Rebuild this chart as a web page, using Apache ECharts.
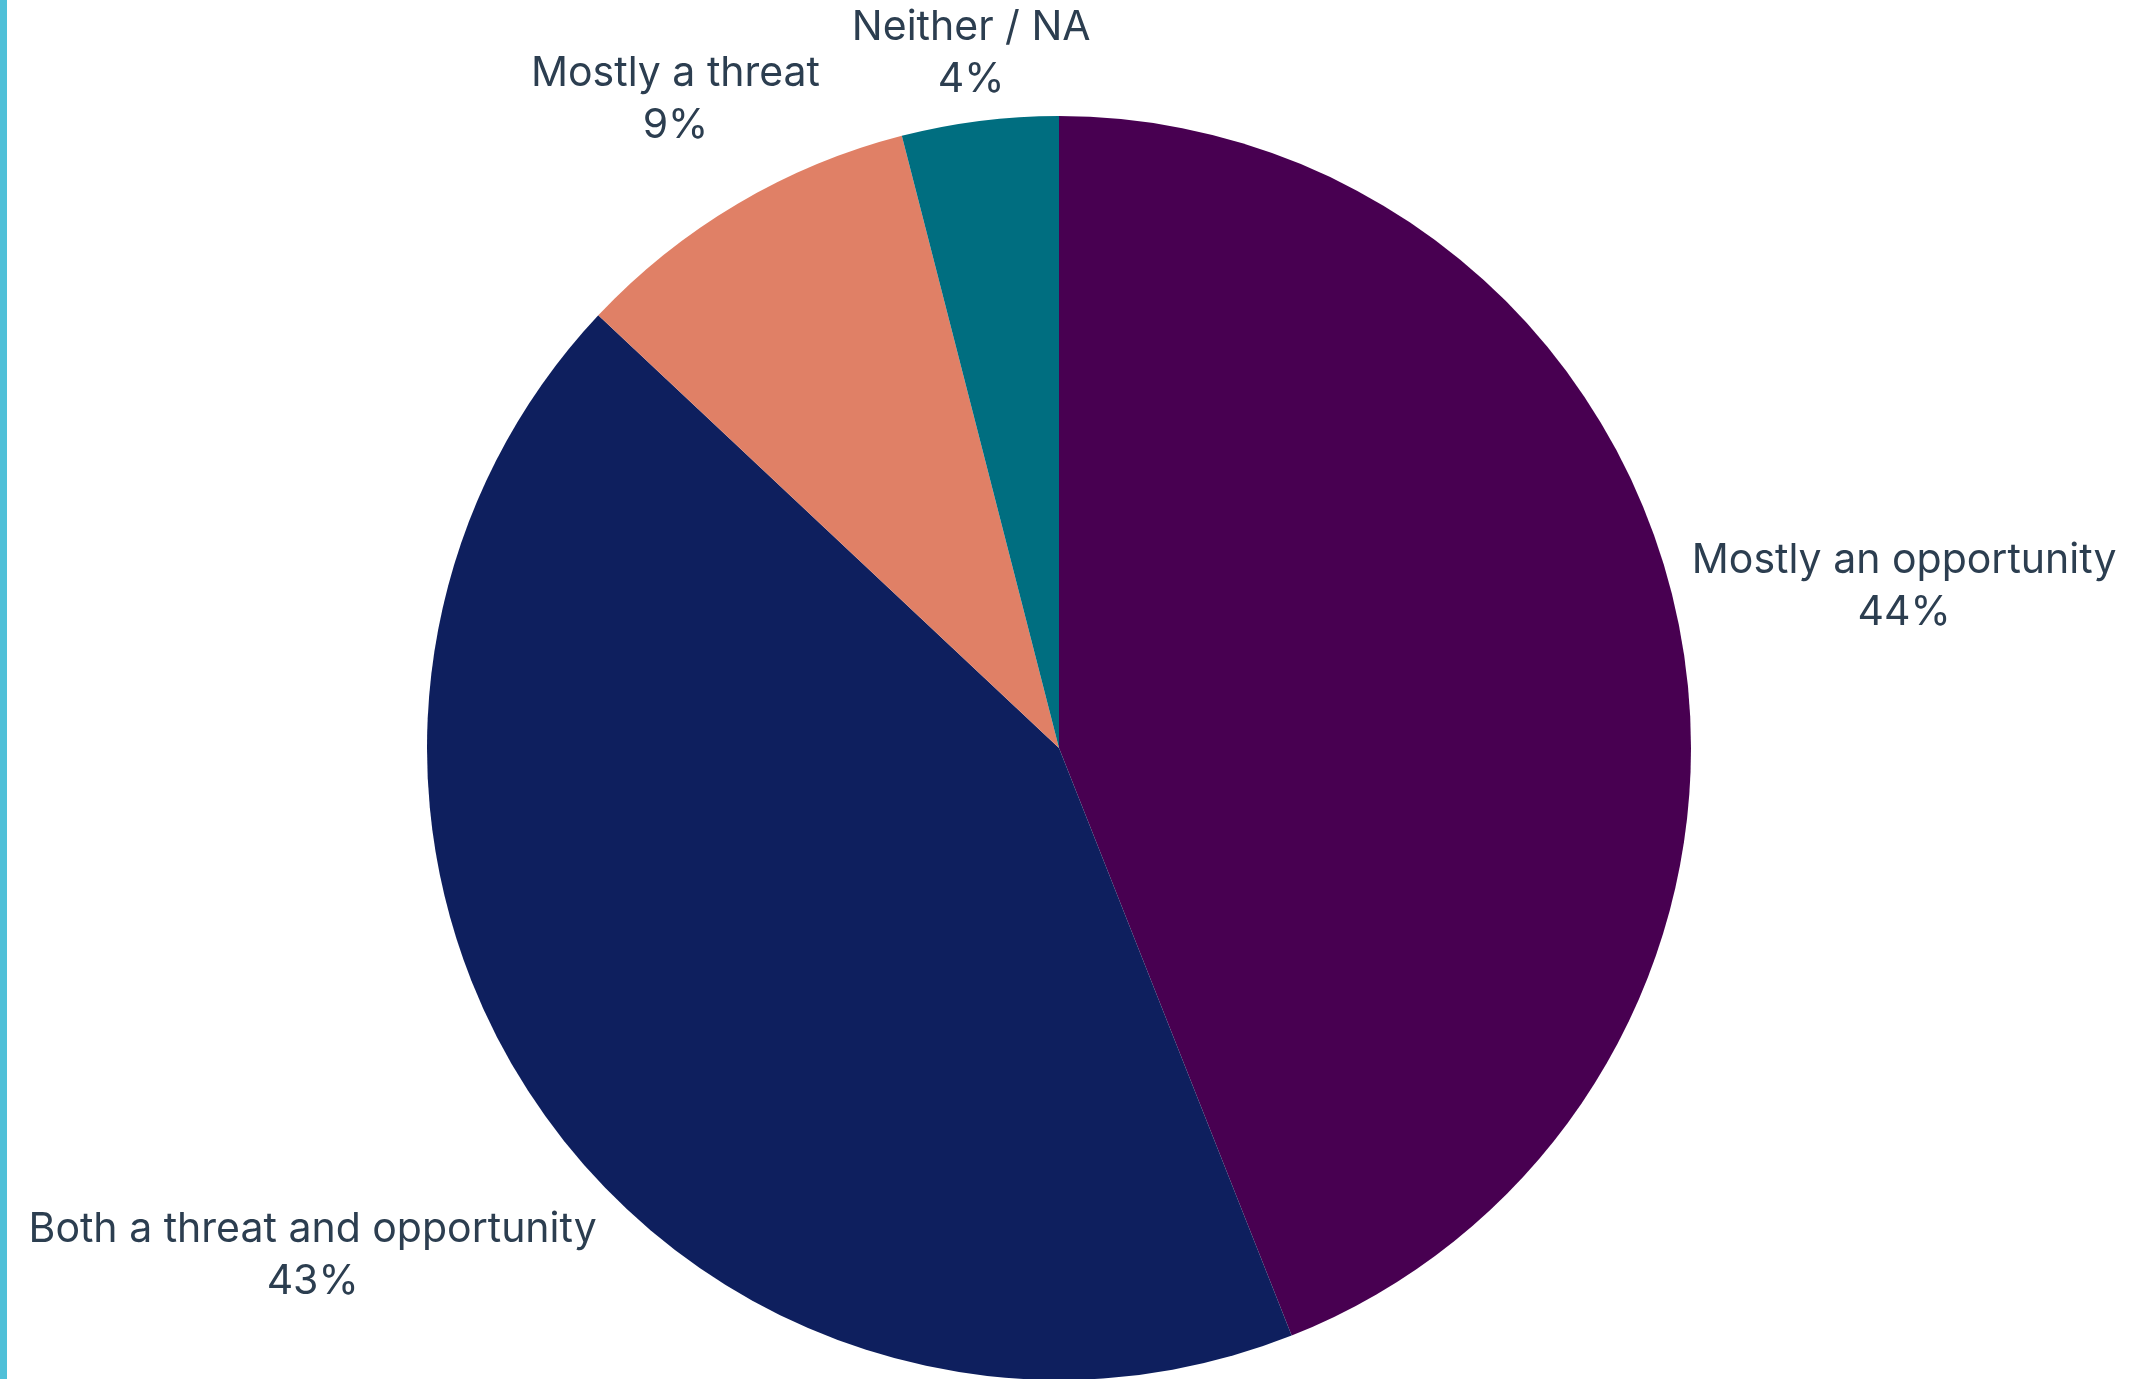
<!DOCTYPE html>
<html>
<head>
<meta charset="utf-8">
<script src="https://cdn.jsdelivr.net/npm/echarts@6/dist/echarts.min.js"></script>
<style>
  html, body { margin: 0; padding: 0; background: #ffffff; }
  #wrap { position: relative; width: 2140px; height: 1379px; }
  #accent { position: absolute; left: 0; top: 0; width: 7px; height: 1379px; background: #4fc0d8; }
  #chart { position: absolute; left: 0; top: 0; width: 2140px; height: 1379px; }
</style>
</head>
<body>
<div id="wrap">
  <div id="accent"></div>
  <div id="chart"></div>
</div>
<script>
// Survey answers: share of respondents per view
const categories = ['Mostly an opportunity', 'Both a threat and opportunity', 'Mostly a threat', 'Neither / NA'];
const shares = [44, 43, 9, 4];
const sliceColors = ['#480051', '#0e1f5e', '#e08066', '#006e80'];

const CENTER = [1059, 748];
const RADIUS = 632;
const LABEL_GAP = 12;
const VERTICAL_WEIGHT = 0.8;

const chart = echarts.init(document.getElementById('chart'), null, { renderer: 'canvas' });

chart.setOption({
  animation: false,
  series: [{
    type: 'pie',
    center: CENTER,
    radius: RADIUS,
    startAngle: 90,
    clockwise: true,
    avoidLabelOverlap: false,
    data: categories.map((name, i) => ({
      name: name,
      value: shares[i],
      itemStyle: { color: sliceColors[i] }
    })),
    label: {
      show: true,
      position: 'outside',
      formatter: '{b}\n{c}%',
      fontFamily: 'Inter',
      fontSize: 41,
      lineHeight: 52,
      color: '#2c3e50',
      align: 'center'
    },
    labelLine: {
      show: true,
      length: 0,
      length2: 0,
      lineStyle: { opacity: 0, width: 0 }
    },
    // Put each label's box just outside the rim, centred on the slice's mid direction
    labelLayout: function (p) {
      const pts = p.labelLinePoints;
      if (!pts || !pts.length) return {};
      let dx = pts[0][0] - CENTER[0];
      let dy = pts[0][1] - CENTER[1];
      const len = Math.sqrt(dx * dx + dy * dy) || 1;
      dx /= len; dy /= len;
      const hw = p.labelRect.width / 2;
      const hh = p.labelRect.height / 2;
      const d = RADIUS + LABEL_GAP + hw * Math.abs(dx) + VERTICAL_WEIGHT * hh * Math.abs(dy);
      return {
        x: CENTER[0] + dx * d,
        y: CENTER[1] + dy * d,
        align: 'center',
        verticalAlign: 'middle'
      };
    }
  }]
});
</script>
</body>
</html>
